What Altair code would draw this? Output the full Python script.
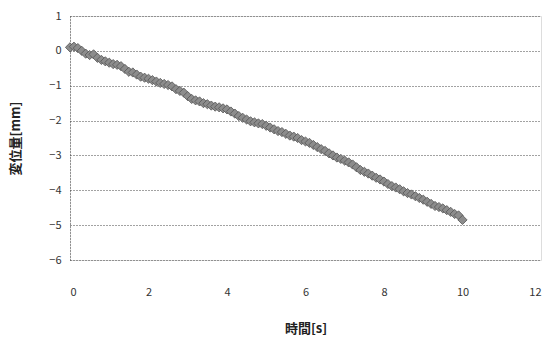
import altair as alt
import pandas as pd

# Sampling times [s]
time_s = [
    0.0, 0.1, 0.2, 0.3, 0.4, 0.5, 0.6, 0.7, 0.8, 0.9,
    1.0, 1.1, 1.2, 1.3, 1.4, 1.5, 1.6, 1.7, 1.8, 1.9,
    2.0, 2.1, 2.2, 2.3, 2.4, 2.5, 2.6, 2.7, 2.8, 2.9,
    3.0, 3.1, 3.2, 3.3, 3.4, 3.5, 3.6, 3.7, 3.8, 3.9,
    4.0, 4.1, 4.2, 4.3, 4.4, 4.5, 4.6, 4.7, 4.8, 4.9,
    5.0, 5.1, 5.2, 5.3, 5.4, 5.5, 5.6, 5.7, 5.8, 5.9,
    6.0, 6.1, 6.2, 6.3, 6.4, 6.5, 6.6, 6.7, 6.8, 6.9,
    7.0, 7.1, 7.2, 7.3, 7.4, 7.5, 7.6, 7.7, 7.8, 7.9,
    8.0, 8.1, 8.2, 8.3, 8.4, 8.5, 8.6, 8.7, 8.8, 8.9,
    9.0, 9.1, 9.2, 9.3, 9.4, 9.5, 9.6, 9.7, 9.8, 9.9,
    10.0,
]

# Measured displacement [mm]
displacement_mm = [
    0.10, 0.12, 0.08, 0.00, -0.08, -0.12, -0.10, -0.20, -0.26, -0.30,
    -0.34, -0.38, -0.40, -0.44, -0.52, -0.60, -0.62, -0.68, -0.74, -0.77,
    -0.80, -0.84, -0.88, -0.92, -0.95, -0.98, -1.02, -1.10, -1.15, -1.20,
    -1.30, -1.38, -1.42, -1.45, -1.50, -1.53, -1.57, -1.60, -1.62, -1.65,
    -1.68, -1.74, -1.80, -1.87, -1.92, -1.97, -2.02, -2.05, -2.08, -2.10,
    -2.15, -2.20, -2.25, -2.30, -2.33, -2.38, -2.43, -2.46, -2.50, -2.56,
    -2.60, -2.64, -2.70, -2.76, -2.82, -2.87, -2.94, -3.00, -3.06, -3.10,
    -3.15, -3.20, -3.26, -3.34, -3.42, -3.47, -3.52, -3.58, -3.64, -3.69,
    -3.75, -3.82, -3.88, -3.92, -3.97, -4.03, -4.08, -4.12, -4.17, -4.22,
    -4.27, -4.33, -4.39, -4.45, -4.48, -4.52, -4.57, -4.62, -4.68, -4.72,
    -4.85,
]

x_ticks = [0, 2, 4, 6, 8, 10, 12]
y_ticks = [1, 0, -1, -2, -3, -4, -5, -6]

df = pd.DataFrame({"t": time_s, "d": displacement_mm})

font = "Noto Sans CJK JP"

chart = (
    alt.Chart(df)
    .mark_point(shape="diamond", filled=True, size=85, color="#8c8c8c",
                stroke="#555555", strokeWidth=0.8, opacity=1)
    .encode(
        x=alt.X("t:Q", title="時間[s]",
                scale=alt.Scale(domain=[0, 12], nice=False, zero=False),
                axis=alt.Axis(values=x_ticks, grid=False, domain=False, ticks=False,
                              labelPadding=26, labelFontSize=11, labelColor="#333333",
                              labelFont=font, titleFont=font, titleFontSize=13,
                              titleFontWeight="bold", titleColor="#222222",
                              titlePadding=25)),
        y=alt.Y("d:Q", title="変位量[mm]",
                scale=alt.Scale(domain=[-6, 1], nice=False, zero=False),
                axis=alt.Axis(values=y_ticks, grid=True, gridColor="#444444",
                              gridDash=[1, 2], gridWidth=1, domain=True,
                              domainColor="#444444", domainDash=[1, 2], ticks=False,
                              labelPadding=9, labelFontSize=11, labelColor="#333333",
                              labelFont=font, titleFont=font, titleFontSize=13,
                              titleFontWeight="bold", titleColor="#222222",
                              titlePadding=26)),
    )
    .properties(
        width=471,
        height=244,
        autosize=alt.AutoSizeParams(type="none"),
        padding={"left": 70, "top": 16, "right": 10, "bottom": 81},
    )
    .configure_view(stroke=None)
    .configure(background="white")
)

chart.save("out.html", embed_options={"renderer": "svg", "actions": False})
